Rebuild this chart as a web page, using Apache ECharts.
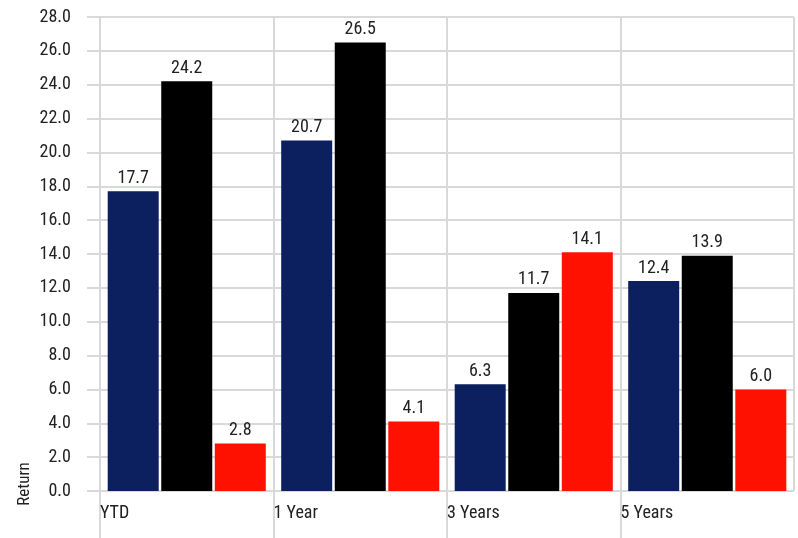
<!DOCTYPE html>
<html><head><meta charset="utf-8">
<script src="https://cdn.jsdelivr.net/npm/echarts@6/dist/echarts.min.js"></script>
<style>html,body{margin:0;padding:0;background:#fff}#c{width:798px;height:538px}</style>
</head><body><div id="c"></div>
<script>
const categories = ['YTD', '1 Year', '3 Years', '5 Years'];
const tickLabels = ['YTD', '1 Year', '3 Years', '5 Years', ''];
const seriesA = [17.7, 20.7, 6.3, 12.4];
const seriesB = [24.2, 26.5, 11.7, 13.9];
const seriesC = [2.8, 4.1, 14.1, 6.0];
const colors = ['#0c1f5e', '#000000', '#ff1100'];
const FONT = '"Liberation Sans Narrow", "Roboto Condensed", Roboto, sans-serif';
const gridColor = '#d9d9d9';

const chart = echarts.init(document.getElementById('c'));
const mk = (data, i) => ({
  type: 'bar', data: data, barWidth: 51, barGap: '5%',
  itemStyle: { color: colors[i] },
  label: { show: true, position: 'top', distance: 4, color: '#222', fontSize: 18, fontFamily: FONT,
    formatter: p => p.value.toFixed(1) },
  animation: false
});
chart.setOption({
  animation: false,
  grid: { left: 100, right: 4, top: 17, bottom: 47 },
  xAxis: [
    { type: 'category', data: categories, show: false },
    { type: 'category', data: tickLabels, boundaryGap: false, position: 'bottom',
      axisLine: { show: false },
      axisTick: { show: true, length: 47, lineStyle: { color: gridColor, width: 2 } },
      splitLine: { show: true, lineStyle: { color: gridColor, width: 2 } },
      axisLabel: { align: 'left', margin: 13, color: '#222', fontSize: 18, fontFamily: FONT, showMaxLabel: false } }
  ],
  yAxis: {
    type: 'value', min: 0, max: 28, interval: 2,
    axisLine: { show: false },
    axisTick: { show: true, length: 13, lineStyle: { color: gridColor, width: 2 } },
    splitLine: { lineStyle: { color: gridColor, width: 2 } },
    axisLabel: { margin: 29, color: '#222', fontSize: 18, fontFamily: FONT, formatter: v => v.toFixed(1) }
  },
  graphic: [{ type: 'text', x: 25, y: 484, rotation: Math.PI / 2,
    style: { text: 'Return', fill: '#222', fontSize: 17, fontFamily: FONT, textAlign: 'center', textVerticalAlign: 'middle' } }],
  series: [mk(seriesA, 0), mk(seriesB, 1), mk(seriesC, 2)]
});
</script></body></html>
